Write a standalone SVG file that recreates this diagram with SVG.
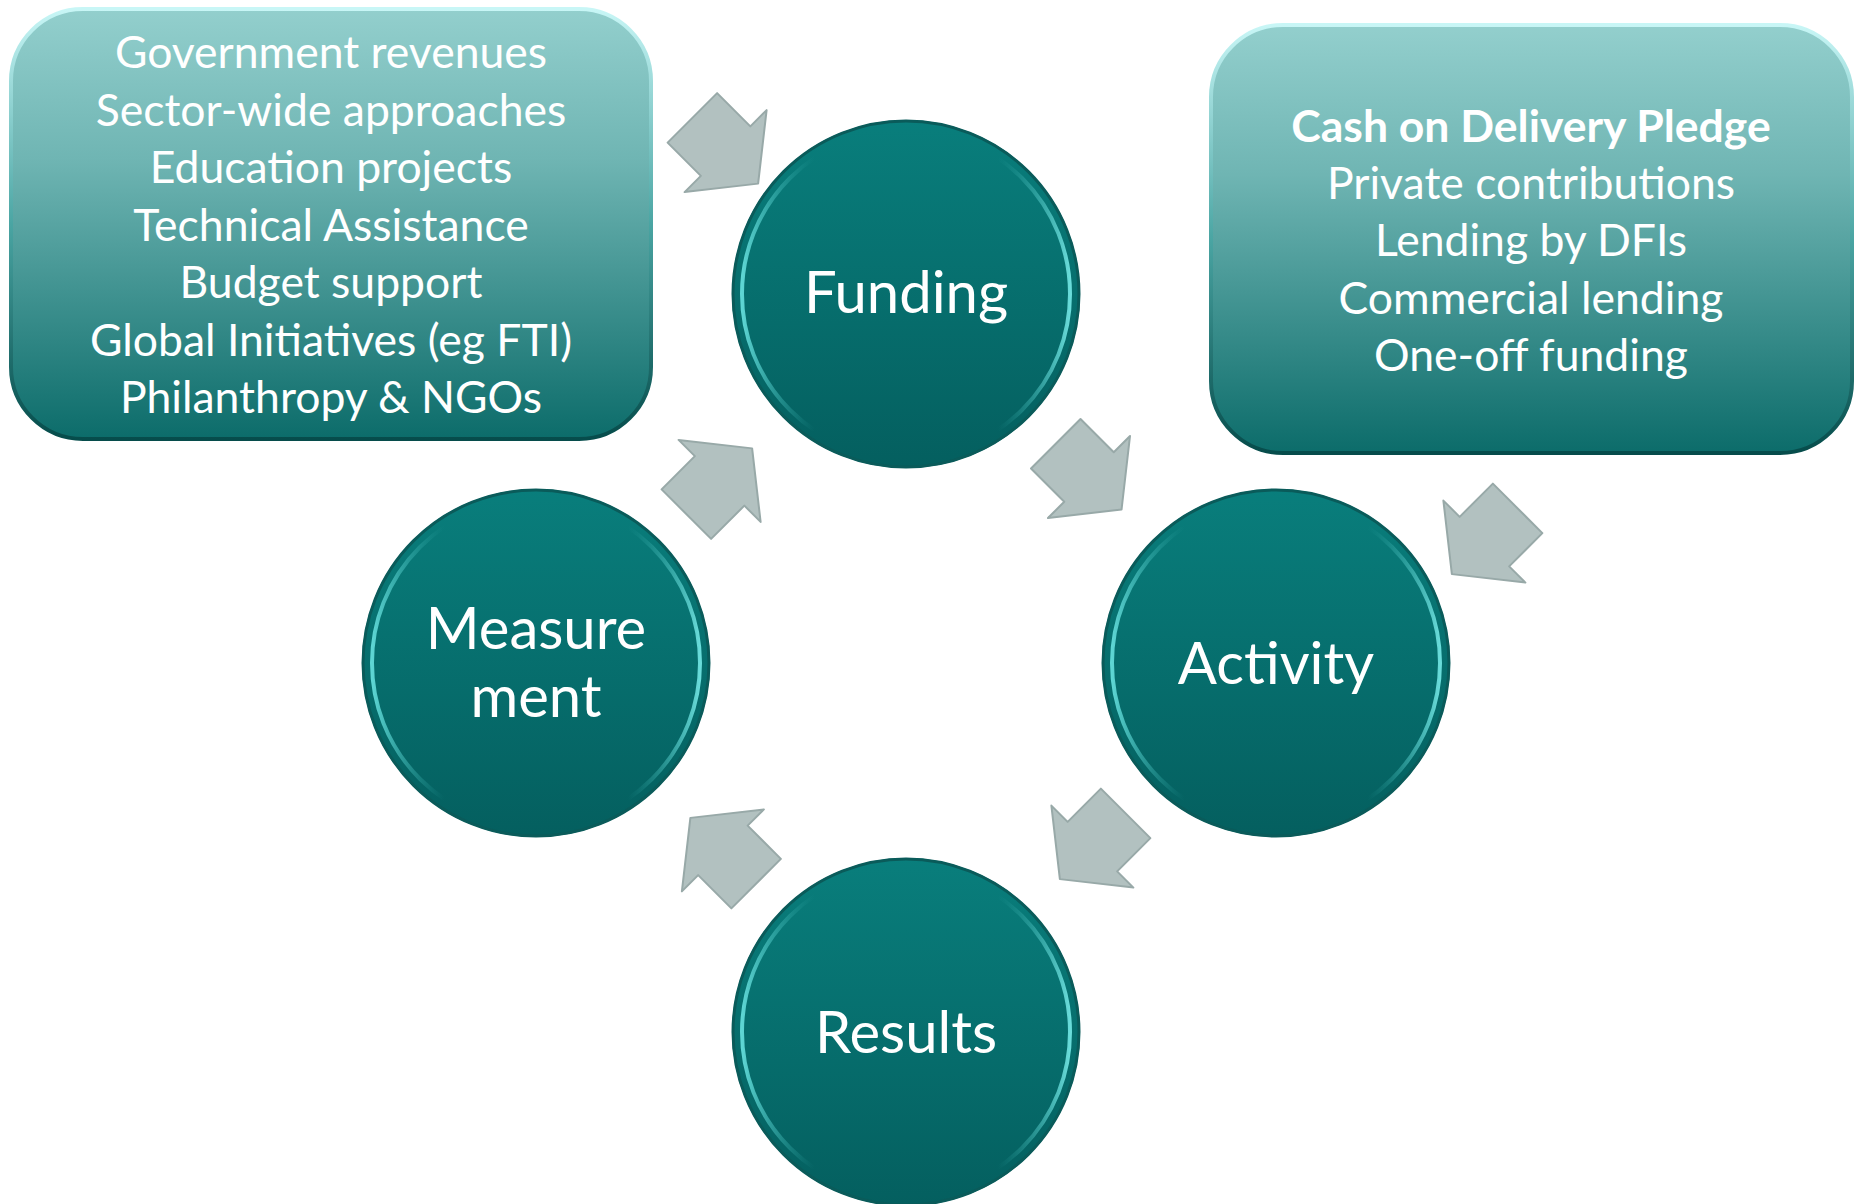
<svg xmlns="http://www.w3.org/2000/svg" width="1860" height="1204" viewBox="0 0 1860 1204">
<defs>
<linearGradient id="boxg" x1="0" y1="0" x2="0" y2="1">
<stop offset="0" stop-color="#93cfcd"/>
<stop offset="0.35" stop-color="#6fb5b3"/>
<stop offset="1" stop-color="#0c6c6a"/>
</linearGradient>
<linearGradient id="boxrim" x1="0" y1="0" x2="0" y2="1">
<stop offset="0" stop-color="#c8f6f6"/>
<stop offset="0.5" stop-color="#4aa5a3"/>
<stop offset="1" stop-color="#064c4b"/>
</linearGradient>
<linearGradient id="circg" x1="0" y1="0" x2="0" y2="1">
<stop offset="0" stop-color="#097e7c"/>
<stop offset="1" stop-color="#045f5f"/>
</linearGradient>
<linearGradient id="rimg" x1="0" y1="0" x2="1" y2="0">
<stop offset="0" stop-color="#5ed6d4" stop-opacity="1"/>
<stop offset="0.22" stop-color="#2aa09e" stop-opacity="0"/>
<stop offset="0.78" stop-color="#2aa09e" stop-opacity="0"/>
<stop offset="1" stop-color="#6adcda" stop-opacity="1"/>
</linearGradient>
<path id="arrow" d="M-47,-35 L0,-35 L0,-58 L46,0 L0,58 L0,35 L-47,35 Z"/>
</defs>
<style>
.box{fill:url(#boxg);stroke:url(#boxrim);stroke-width:4}
.circ{fill:url(#circg)}
.rim{fill:none;stroke:url(#rimg);stroke-width:4}
.edge{fill:none;stroke:#0a5b5a;stroke-width:3}
.arr{fill:#b2c1c0;stroke:#98a9a8;stroke-width:2;stroke-linejoin:round}
.bt{font-family:Lato,"Open Sans",sans-serif;font-size:44.5px;fill:#ffffff;text-anchor:middle}
.ct{font-family:Lato,"Open Sans",sans-serif;font-size:58px;fill:#ffffff;text-anchor:middle}
</style>
<rect width="1860" height="1204" fill="#ffffff"/>

<g id="connectors">
<use href="#arrow" class="arr" transform="translate(725.6,151.1) rotate(45)"/>
<use href="#arrow" class="arr" transform="translate(1089,477) rotate(45)"/>
<use href="#arrow" class="arr" transform="translate(1092.4,846.6) rotate(135)"/>
<use href="#arrow" class="arr" transform="translate(722.9,850.4) rotate(225)"/>
<use href="#arrow" class="arr" transform="translate(719.6,480.9) rotate(315)"/>
<use href="#arrow" class="arr" transform="translate(1484.4,541.6) rotate(135)"/>
</g>

<g id="box-left">
<rect class="box" x="11" y="9" width="640" height="430" rx="72"/>
<text class="bt" x="331" y="68">Government revenues</text>
<text class="bt" x="331" y="126">Sector-wide approaches</text>
<text class="bt" x="331" y="183">Education projects</text>
<text class="bt" x="331" y="241">Technical Assistance</text>
<text class="bt" x="331" y="298">Budget support</text>
<text class="bt" x="331" y="356">Global Initiatives (eg FTI)</text>
<text class="bt" x="331" y="413">Philanthropy &amp; NGOs</text>
</g>

<g id="box-right">
<rect class="box" x="1211" y="25" width="641" height="428" rx="72"/>
<text class="bt" x="1531" y="142" font-weight="bold">Cash on Delivery Pledge</text>
<text class="bt" x="1531" y="199">Private contributions</text>
<text class="bt" x="1531" y="256">Lending by DFIs</text>
<text class="bt" x="1531" y="314">Commercial lending</text>
<text class="bt" x="1531" y="371">One-off funding</text>
</g>

<g id="node-funding">
<circle class="circ" cx="906" cy="294" r="174"/>
<circle class="rim" cx="906" cy="294" r="164"/>
<circle class="edge" cx="906" cy="294" r="173"/>
<text class="ct" x="906" y="313">Funding</text>
</g>

<g id="node-activity">
<circle class="circ" cx="1276" cy="663" r="174"/>
<circle class="rim" cx="1276" cy="663" r="164"/>
<circle class="edge" cx="1276" cy="663" r="173"/>
<text class="ct" x="1276" y="684">Activity</text>
</g>

<g id="node-results">
<circle class="circ" cx="906" cy="1032" r="174"/>
<circle class="rim" cx="906" cy="1032" r="164"/>
<circle class="edge" cx="906" cy="1032" r="173"/>
<text class="ct" x="906" y="1053">Results</text>
</g>

<g id="node-measurement">
<circle class="circ" cx="536" cy="663" r="174"/>
<circle class="rim" cx="536" cy="663" r="164"/>
<circle class="edge" cx="536" cy="663" r="173"/>
<text class="ct" x="536" y="649">Measure</text>
<text class="ct" x="536" y="717">ment</text>
</g>
</svg>
